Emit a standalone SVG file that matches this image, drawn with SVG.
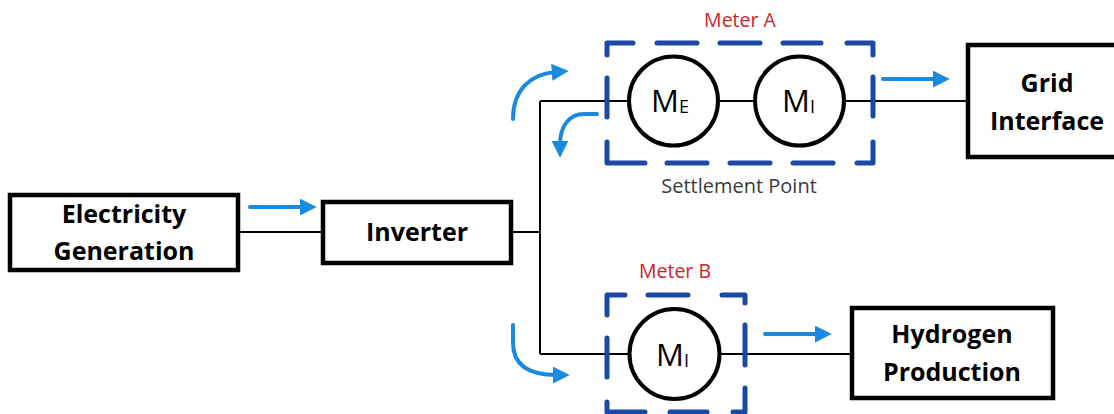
<svg xmlns="http://www.w3.org/2000/svg" width="1114" height="414" viewBox="0 0 1114 414">
<style>
.box{fill:#fff;stroke:#000;stroke-width:4.5}
.wire{fill:none;stroke:#000;stroke-width:2}
.meter{fill:#fff;stroke:#000;stroke-width:4}
.flow{fill:none;stroke:#1a8ae0;stroke-width:4;stroke-linecap:round}
.dash{fill:none;stroke:#1b48a6;stroke-width:5;stroke-linecap:round;stroke-linejoin:round}
.lbl{font-family:"Open Sans","Liberation Sans",sans-serif;font-weight:bold;font-size:25px;fill:#000;text-anchor:middle}
.m{font-family:"Open Sans","Liberation Sans",sans-serif;font-size:31px;fill:#000}
.sub{font-size:18px}
.red{font-family:"Open Sans","Liberation Sans",sans-serif;font-size:19.5px;fill:#d0232a;text-anchor:middle}
.note{font-family:"Open Sans","Liberation Sans",sans-serif;font-size:20px;fill:#3a3a3a;text-anchor:middle}
</style>
<defs>
<marker id="ah" viewBox="0 0 16 16" refX="4" refY="8" markerWidth="17" markerHeight="17" markerUnits="userSpaceOnUse" orient="auto">
<path d="M0,0 L16,8 L0,16 z" fill="#1a8ae0"/>
</marker>
</defs>
<g id="connectors">
<path class="wire" d="M238,232 H323"/>
<path class="wire" d="M511,232 H540"/>
<path class="wire" d="M540,101 V354"/>
<path class="wire" d="M540,101 H629"/>
<path class="wire" d="M718,101 H755"/>
<path class="wire" d="M844,101 H968"/>
<path class="wire" d="M540,354 H630"/>
<path class="wire" d="M718,354 H852"/>
<path class="flow" d="M250,207 H304" marker-end="url(#ah)"/>
<path class="flow" d="M883,79 H937" marker-end="url(#ah)"/>
<path class="flow" d="M765,334 H819" marker-end="url(#ah)"/>
<path class="flow" d="M513,119 C513,90 530,74 556,72" marker-end="url(#ah)"/>
<path class="flow" d="M597,114 H584 C569,114 560,126 560,145" marker-end="url(#ah)"/>
<path class="flow" d="M513,325 V343 C513,365 528,375 557,375" marker-end="url(#ah)"/>
</g>
<g id="electricity-generation">
<rect class="box" x="10" y="195" width="228" height="75"/>
<text class="lbl" x="124" y="223">Electricity</text>
<text class="lbl" x="124" y="260">Generation</text>
</g>
<g id="inverter">
<rect class="box" x="323" y="202" width="188" height="61"/>
<text class="lbl" x="417" y="241">Inverter</text>
</g>
<g id="grid-interface">
<rect class="box" x="968" y="45" width="160" height="112"/>
<text class="lbl" x="1047" y="92">Grid</text>
<text class="lbl" x="1047" y="130">Interface</text>
</g>
<g id="hydrogen-production">
<rect class="box" x="852" y="308" width="201" height="90"/>
<text class="lbl" x="952" y="343">Hydrogen</text>
<text class="lbl" x="952" y="381">Production</text>
</g>
<g id="meter-a">
<text class="red" x="740" y="27">Meter A</text>
<path class="dash" d="M607,55 V43 H633 M657,43 H697 M720,43 H760 M783,43 H821 M847,43 H873 V55 M873,77 V116 M873,142 V163 H857 M833,163 H793 M770,163 H730 M707,163 H667 M645,163 H607 V142 M607,117 V78"/>
<g id="meter-a-me">
<circle class="meter" cx="673.5" cy="101" r="44.5"/>
<text class="m" x="651" y="112">M<tspan class="sub" dy="1">E</tspan></text>
</g>
<g id="meter-a-mi">
<circle class="meter" cx="799.5" cy="101" r="44.5"/>
<text class="m" x="782" y="112">M<tspan class="sub" dy="1">I</tspan></text>
</g>
<text class="note" x="739" y="193">Settlement Point</text>
</g>
<g id="meter-b">
<text class="red" x="675" y="278">Meter B</text>
<path class="dash" d="M607,315 V295 H625 M648,295 H688 M722,295 H745 V303 M745,325 V365 M745,388 V412 H733 M707,412 H670 M645,412 H607 V402 M607,377 V338"/>
<g id="meter-b-mi">
<circle class="meter" cx="674.5" cy="354" r="45"/>
<text class="m" x="656" y="366">M<tspan class="sub" dy="1">I</tspan></text>
</g>
</g>
</svg>
